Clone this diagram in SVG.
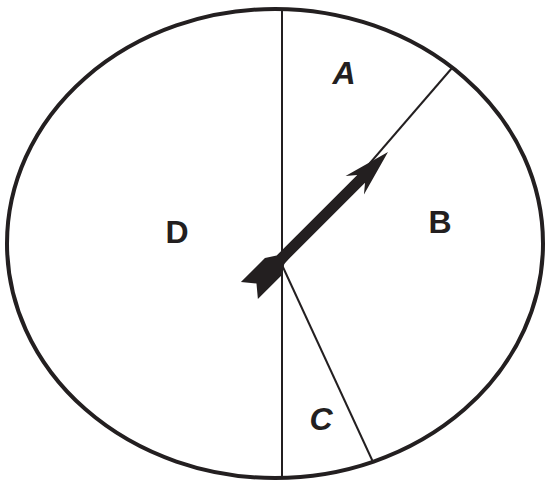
<svg xmlns="http://www.w3.org/2000/svg" width="546" height="482" viewBox="0 0 546 482">
<style>
.lbl{font-family:"Liberation Sans","DejaVu Sans",sans-serif;font-weight:bold;font-size:32px;fill:#231f20;text-anchor:middle}
.thin{stroke:#231f20;stroke-width:2;fill:none}
</style>
<rect width="546" height="482" fill="#fff"/>
<g id="circle">
<ellipse cx="275" cy="243.5" rx="268" ry="234.5" fill="none" stroke="#231f20" stroke-width="4"/>
</g>
<g id="connectors">
<line class="thin" x1="282" y1="9" x2="282" y2="478"/>
<line class="thin" x1="282" y1="265" x2="452" y2="68"/>
<line class="thin" x1="282" y1="265" x2="373" y2="462"/>
</g>
<g id="arrow" transform="translate(388,152) rotate(135)">
<polygon fill="#231f20" points="0,0 47,-13 38,-5.5 152,-5.5 162,-12 196,-12 186,0 196,12 162,12 152,5.5 38,5.5 47,13"/>
</g>
<g id="A"><text class="lbl" x="344" y="84" font-style="italic">A</text></g>
<g id="B"><text class="lbl" x="440" y="233">B</text></g>
<g id="C"><text class="lbl" x="321" y="430" font-style="italic">C</text></g>
<g id="D"><text class="lbl" x="177" y="243">D</text></g>
</svg>
